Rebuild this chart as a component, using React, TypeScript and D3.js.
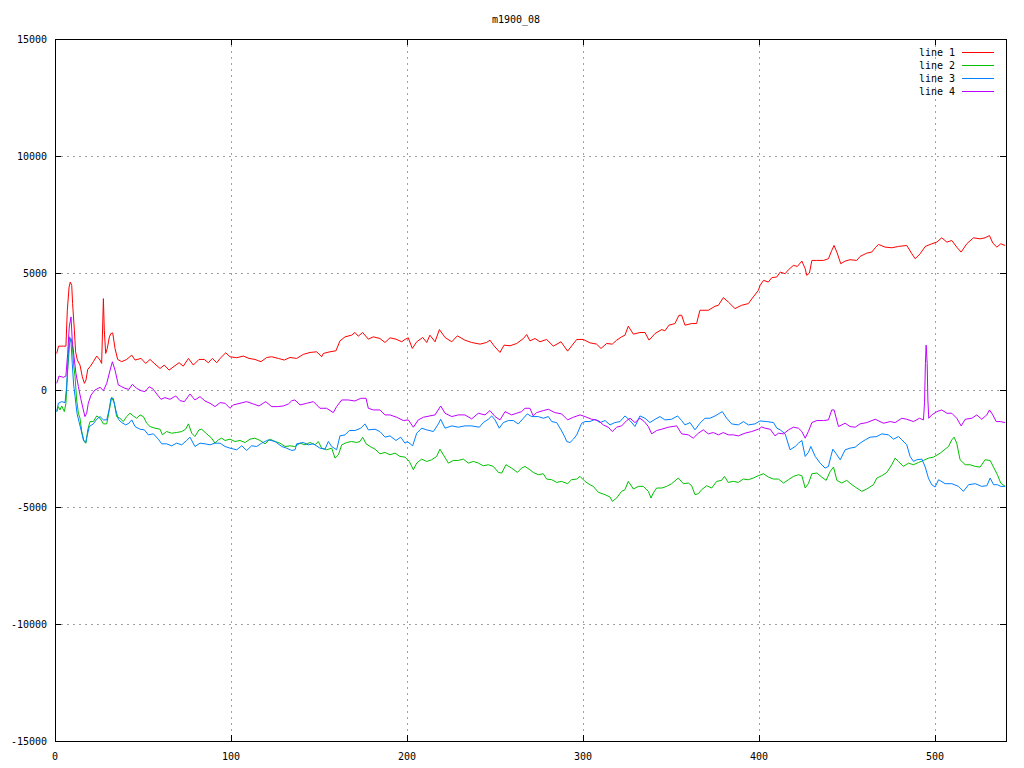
import React from "react";
import * as d3 from "d3";

const title = "m1900_08";
const seriesNames = ["line 1", "line 2", "line 3", "line 4"];
const seriesColors = ["#ff0000", "#00c000", "#0080ff", "#c000ff"];
const xTicks = [0, 100, 200, 300, 400, 500];
const yTicks = [-15000, -10000, -5000, 0, 5000, 10000, 15000];

// line 1 (red)
const line1: [number, number][] = [
  [1, 1560], [2, 1875], [4.7, 1875], [6.2, 1875], [7, 3410], [8, 4400], [8.7, 4615], [9.5, 4470], [10, 3690], [11, 2556],
  [11.7, 1630], [12.7, 1280], [14.2, 1065], [15.5, 570], [16.7, 284], [17.6, 425], [18.6, 880], [19.9, 994], [21.8, 1210],
  [23.7, 1450], [25.6, 1280], [26.5, 1136], [27.5, 3905], [28, 2556], [28.8, 1560], [29.7, 1775], [30.9, 2270], [31.8, 2414],
  [32.8, 2440], [34.1, 1775], [35.6, 1306], [37.9, 1210], [40.7, 1306], [43.6, 1490], [45.5, 1280], [48.9, 1350], [51.5, 1136],
  [54, 1306], [56.8, 1110], [59.7, 920], [62.1, 1065], [64.8, 850], [67.8, 1020], [70.5, 1165], [72.9, 1020], [75.8, 1350],
  [78.6, 1065], [81.8, 1306], [84.8, 1306], [87.1, 1165], [89.4, 1350], [91.9, 1165], [93.8, 1350], [97, 1590], [99.4, 1420],
  [103.2, 1380], [107, 1450], [110.2, 1350], [113.6, 1306], [117, 1210], [120.3, 1390], [123.1, 1420], [126.9, 1350],
  [130.3, 1280], [133.5, 1390], [137.3, 1350], [141, 1520], [144.9, 1605], [148.7, 1633], [151.5, 1420], [152.4, 1560],
  [156.2, 1633], [159.6, 1675], [161.9, 2100], [164.8, 2272], [168.5, 2343], [170.4, 2457], [172.3, 2300], [174.8, 2457],
  [178, 2173], [180.9, 2272], [184.6, 2200], [187.5, 2030], [190.3, 2230], [193.7, 2173], [197, 2060], [198.8, 2160],
  [200.7, 2230], [203, 1775], [205.5, 2060], [208.9, 2244], [211.2, 2030], [213, 2343], [215.9, 2060], [218.4, 2584],
  [221.6, 2244], [225.4, 2060], [228.6, 2315], [232.9, 2130], [236.7, 2030], [241.5, 1960], [245.2, 2030], [247.1, 2130],
  [249.4, 1890], [252.8, 1605], [255.1, 1917], [258.5, 1890], [262.3, 1988], [266.1, 2200], [268, 2370], [269.8, 2100],
  [272.7, 2200], [275.5, 2060], [279.3, 2160], [283.1, 1875], [287.5, 2060], [291.2, 1660], [296.4, 2160], [300.1, 2160],
  [303.9, 2016], [307.7, 1960], [310.2, 1775], [313.4, 1988], [316.6, 1960], [319.1, 2130], [321.9, 2272], [323.8, 2343],
  [325.7, 2726], [328.6, 2386], [332.3, 2457], [335.2, 2457], [337.5, 2130], [340.9, 2414], [344.7, 2584], [346.5, 2528],
  [348.8, 2770], [352.2, 2840], [354.5, 3195], [356, 3195], [357.9, 2770], [361.7, 2840], [364.5, 2840], [366.4, 3408],
  [371.2, 3408], [375, 3578], [376.9, 3620], [379.7, 3948], [382.5, 3763], [386.3, 3480], [390.1, 3620], [393.9, 3692],
  [396.7, 3976], [399.6, 4260], [400.6, 4473], [402.5, 4686], [405.3, 4615], [407.2, 4800], [410.1, 4830], [412, 5041],
  [414.8, 4970], [416.7, 5140], [419.5, 5325], [421.8, 5282], [424.3, 5510], [426.2, 5183], [427.1, 4900], [428.6, 5000],
  [430, 5538], [432.8, 5538], [436.6, 5538], [439.4, 5610], [441.3, 5964], [442.6, 6177], [444.2, 5893], [446.4, 5396],
  [448.9, 5510], [451.7, 5567], [455.5, 5538], [457.4, 5709], [461.2, 5850], [464, 5893], [466, 6078], [467.8, 6220],
  [471.6, 6106], [475.4, 6078], [479.2, 6135], [483.9, 6177], [486.8, 5822], [488.7, 5610], [491.5, 5822], [494.4, 6135],
  [498.1, 6248], [501, 6320], [503.8, 6504], [506.7, 6320], [509.5, 6390], [512.3, 6106], [514.8, 5893], [518, 6248],
  [521.8, 6504], [525.6, 6460], [528.4, 6504], [530.9, 6600], [532.8, 6276], [535.1, 6106], [537.3, 6248], [539.8, 6177],
];

// line 2 (green)
const line2: [number, number][] = [
  [1, -923], [1.9, -710], [2.8, -852], [3.8, -682], [5.3, -923], [6.2, -568], [7.2, 852], [8.3, 1988], [9.1, 2201], [9.8, 1988],
  [10.6, 1065], [11.4, 568], [12.3, -426], [13.3, -994], [14.2, -1207], [15.2, -1775], [16.5, -2201], [17.6, -2272],
  [18.6, -1704], [19.9, -1349], [21.8, -1349], [23.7, -1108], [25.6, -1207], [27.5, -1448], [29.4, -1448], [30.7, -923],
  [32.2, -312], [33.7, -568], [35, -1136], [36.9, -1207], [38.8, -1349], [40.7, -1136], [42.6, -994], [44.5, -1108],
  [46.4, -1207], [48.3, -1065], [50.2, -1136], [52.1, -1420], [54, -1562], [56.8, -1633], [59.7, -1676], [61, -1917],
  [63.4, -1775], [66.3, -1846], [69.1, -1818], [72, -1775], [74.2, -1676], [75.8, -1448], [77.7, -1846], [79.5, -1988],
  [81.8, -1704], [83.3, -1676], [86.2, -1874], [89, -2059], [90.9, -2272], [92.8, -2130], [94.7, -2059], [96.6, -2158],
  [99.4, -2102], [102.3, -2201], [105.1, -2158], [108, -2244], [110.8, -2102], [113.6, -2059], [116.5, -2158],
  [119.3, -2300], [122.2, -2102], [125, -2201], [127.8, -2272], [130.7, -2414], [133.5, -2386], [136.3, -2414],
  [139.2, -2272], [142, -2343], [144.9, -2244], [147.7, -2343], [149.6, -2201], [151.5, -2485], [154.3, -2556],
  [157.2, -2485], [159.1, -2911], [161, -2769], [162.9, -2343], [165.7, -2244], [168.5, -2201], [171.4, -2244],
  [173.3, -2201], [174.8, -2016], [176.7, -2300], [179, -2414], [181.8, -2528], [184.6, -2727], [187.5, -2670],
  [190.3, -2769], [193.2, -2698], [196, -2840], [198.8, -2868], [201.3, -3053], [203.6, -3408], [205.5, -3124],
  [208.3, -2954], [211.2, -3053], [214, -2982], [216.8, -2840], [218.7, -2528], [220.6, -2769], [223.5, -3124],
  [226.3, -3011], [229.1, -3011], [232, -2954], [234.8, -3124], [237.7, -3053], [240.5, -3124], [243.3, -3238],
  [246.2, -3195], [249, -3266], [251.9, -3522], [253.8, -3550], [256.2, -3195], [259.4, -3337], [262.7, -3522],
  [265.1, -3337], [267, -3266], [269.8, -3408], [271.7, -3522], [274.6, -3621], [277.4, -3578], [279.3, -3806],
  [282.2, -3834], [285, -3948], [287.8, -3905], [291.2, -4004], [293.5, -3834], [296.4, -3806], [298.3, -3692],
  [301.1, -3905], [303.9, -4047], [305.8, -4118], [308.7, -4373], [312.5, -4473], [315.3, -4572], [316.6, -4757],
  [319.1, -4615], [321.9, -4331], [323.8, -4260], [325.7, -3905], [328.6, -4232], [331.4, -4118], [334.2, -4118],
  [337.1, -4331], [338.6, -4615], [339.9, -4402], [341.8, -4189], [344.7, -4189], [347.5, -4118], [350.3, -4004],
  [354.1, -3763], [357, -4004], [359.8, -3976], [361.7, -4090], [363.6, -4473], [365.5, -4430], [367.4, -4260],
  [370.2, -4090], [373.1, -4189], [375.9, -3905], [378.7, -3862], [380.3, -3692], [382.5, -3948], [385.4, -3905],
  [388.2, -3948], [391.1, -3806], [393.9, -3834], [396.7, -3763], [399.6, -3660], [402.5, -3578], [405.3, -3720],
  [408.2, -3806], [411, -3806], [413.9, -3976], [416.7, -3834], [419.5, -3692], [422.4, -3621], [424.3, -3664],
  [426.2, -4189], [428, -4004], [430, -3578], [432.8, -3550], [435.6, -3720], [438.1, -3862], [440.4, -3479],
  [442.3, -3294], [444.2, -3862], [447, -3976], [449.8, -3862], [452.7, -4047], [455.5, -4189], [458.4, -4331],
  [461.2, -4232], [465, -4047], [466.9, -3763], [469.7, -3664], [472.6, -3522], [475.4, -3195], [477.3, -2911],
  [479.2, -3053], [482, -3266], [484.9, -3124], [487.7, -3195], [490.6, -3096], [493.4, -3011], [496.2, -2911],
  [499.1, -2869], [502.9, -2698], [505.7, -2528], [507.6, -2414], [509.5, -2130], [510.8, -2016], [512.3, -2272],
  [514.2, -2982], [517.1, -3195], [519.9, -3195], [522.8, -3266], [525.6, -3294], [528.4, -2982], [531.3, -3011],
  [533.2, -3294], [535.4, -3621], [537.3, -3976], [539.8, -4118],
];

// line 3 (blue)
const line3: [number, number][] = [
  [1, -923], [1.9, -568], [3.8, -497], [5.7, -540], [6.6, 142], [7.6, 1562], [8.3, 2272], [9.1, 2059], [9.8, 1136],
  [10.6, 213], [11.4, -284], [12.5, -994], [13.6, -1349], [14.8, -1704], [16.1, -2130], [17.4, -2244], [18.4, -1917],
  [19.5, -1562], [21.8, -1448], [23.7, -1250], [25.6, -1136], [27.5, -1278], [29.4, -1278], [30.7, -852], [31.8, -355],
  [33.1, -355], [34.5, -852], [36, -1250], [37.9, -1392], [40.2, -1491], [42, -1420], [43.6, -1278], [45.5, -1562],
  [48.3, -1676], [50.8, -1704], [53, -1917], [55.9, -1874], [58.7, -2102], [60.6, -2300], [63.4, -2300], [66.3, -2386],
  [69.1, -2272], [72, -2343], [74.8, -2158], [76.7, -2016], [79.5, -2414], [82.4, -2272], [85.2, -2300], [88.1, -2343],
  [90.9, -2272], [93.8, -2272], [96.6, -2414], [99.4, -2485], [103.2, -2556], [106.1, -2386], [108.9, -2584],
  [111.7, -2386], [114.6, -2414], [117.4, -2272], [121.2, -2130], [125, -2201], [128.8, -2414], [131.6, -2485],
  [134.5, -2584], [136.4, -2556], [137.3, -2300], [141, -2244], [143.9, -2343], [146.8, -2300], [150.5, -2485],
  [153.4, -2528], [155.3, -2201], [157.2, -2414], [160, -2556], [161.9, -1960], [164.8, -1917], [167.2, -1732],
  [170.4, -1732], [173.7, -1633], [176.1, -1449], [178, -1704], [181.8, -1676], [184.6, -1775], [187.5, -2016],
  [190.3, -1960], [193.7, -2158], [196.4, -2016], [198.8, -2272], [200.2, -2201], [203.2, -2386], [205.5, -1846],
  [208.3, -1633], [211.2, -1704], [215, -1775], [217.8, -1449], [219.1, -1250], [221.6, -1633], [225.4, -1534],
  [229.1, -1590], [232.9, -1534], [236.7, -1534], [241.1, -1590], [243.3, -1392], [246.2, -1250], [248.1, -1108],
  [250, -1278], [252.4, -1633], [254.7, -1392], [257.6, -1306], [260.4, -1306], [263.2, -1449], [266.1, -1207],
  [268.3, -1022], [270.8, -1136], [274.6, -1136], [277.4, -1207], [280.3, -1136], [282.2, -1349], [285, -1392],
  [287.5, -1704], [289.7, -2016], [290.7, -2201], [292.6, -2244], [294.5, -2102], [296.4, -1917], [299.2, -1420],
  [301.1, -1349], [303.9, -1349], [306.8, -1250], [309.6, -1392], [312.5, -1306], [315.3, -1491], [318.1, -1392],
  [321, -1349], [323.8, -1108], [326.7, -1306], [329.5, -1562], [332.3, -1108], [335.2, -1207], [338, -1392],
  [340.9, -1250], [343.7, -1136], [346.5, -1278], [350.3, -1250], [353.7, -1108], [356, -1306], [357.9, -1491],
  [360.8, -1392], [363.6, -1704], [366.4, -1420], [369.3, -1207], [372.1, -1207], [375, -1108], [379.1, -923],
  [381.6, -1207], [384.4, -1449], [388.2, -1491], [391.1, -1349], [393.9, -1491], [397.7, -1449], [400.5, -1321],
  [404.4, -1349], [408.2, -1392], [410.1, -1633], [412, -1704], [414.8, -1874], [417.6, -2556], [420.5, -2414],
  [422.4, -2272], [424.3, -2158], [426.2, -2840], [428, -2670], [429.4, -2414], [431.9, -2840], [434.7, -3124],
  [437.5, -3337], [439.4, -3266], [440.8, -2840], [441.9, -2528], [443.8, -2727], [446.1, -2982], [448.9, -2556],
  [451.7, -2485], [454.6, -2443], [457.4, -2272], [460.3, -2130], [463.1, -2016], [466.9, -1988], [469.7, -1874],
  [473.5, -1917], [476.4, -2102], [479.2, -1988], [481.1, -2130], [483.9, -2343], [485.8, -2840], [487.7, -3053],
  [489.6, -2982], [492.5, -2954], [494.4, -3294], [496.2, -3763], [498.1, -4047], [500, -4146], [502, -3834],
  [505.7, -4004], [509.5, -4004], [513.3, -4118], [516.1, -4331], [519, -4047], [522.8, -4004], [526.5, -4118],
  [529.4, -4090], [531.3, -3763], [533.2, -4047], [535.4, -4047], [537.3, -4118], [539.8, -4118],
];

// line 4 (magenta)
const line4: [number, number][] = [
  [1, 284], [2.3, 596], [4.7, 540], [6.2, 596], [7.2, 1562], [8.1, 2698], [9.1, 3124], [9.8, 2130], [10.8, 1420],
  [11.9, 710], [13.3, 142], [14.6, -355], [16.1, -852], [17, -1136], [18, -994], [18.9, -568], [20.5, -213], [22.7, 0],
  [25.6, 114], [27.5, -28], [29.4, 284], [31.3, 852], [32.6, 1207], [34.1, 852], [36, 213], [37.9, 142], [39.8, 71],
  [42, 28], [43.9, 241], [46.4, 71], [48.9, -28], [51.1, -71], [53.6, 142], [55.9, 28], [57.8, -170], [60.2, -397],
  [62.5, -327], [65.3, -397], [68.6, -255], [71, -454], [73.5, -497], [76.7, -170], [79.5, -426], [82.4, -284],
  [85.2, -469], [88.1, -568], [90.9, -710], [93.8, -540], [96.6, -568], [99.4, -781], [101.3, -639], [105.1, -568],
  [108.9, -497], [112.7, -597], [115.9, -682], [119.7, -497], [123.1, -710], [126.5, -710], [129.7, -682],
  [132.6, -597], [134.5, -460], [136.3, -426], [139.2, -639], [143, -568], [146.8, -497], [150.5, -781], [154.3, -781],
  [158.1, -966], [160, -710], [162.9, -426], [166.6, -426], [170.4, -469], [173.7, -355], [176.7, -355], [178, -781],
  [180.9, -852], [184.6, -852], [187.5, -1065], [190.3, -1065], [194.1, -1164], [197.9, -1306], [200.7, -1278],
  [203.6, -1590], [206.4, -1278], [209.3, -1164], [213, -1107], [215.9, -1065], [219.1, -682], [221.6, -994],
  [225.4, -1136], [229.1, -1065], [232.9, -1065], [236.7, -1235], [240.5, -994], [244.3, -1065], [247.1, -880],
  [250, -1136], [252.8, -1278], [255.7, -923], [259.4, -1065], [262.3, -994], [265.1, -923], [267, -781],
  [269.8, -781], [271.7, -1108], [273.6, -966], [277.4, -880], [280.3, -824], [284, -966], [287.8, -1022],
  [291.2, -1278], [294.5, -1164], [298.3, -1065], [301.1, -1136], [304.9, -1250], [308.7, -1306], [311.5, -1491],
  [314.3, -1590], [316.6, -1775], [319.1, -1590], [321.9, -1534], [324.8, -1306], [326.7, -1207], [329.5, -1392],
  [332.3, -1207], [334.8, -1349], [337.1, -1562], [339, -1874], [341.8, -1732], [344.7, -1676], [348.4, -1590],
  [353.2, -1534], [356, -1874], [359.8, -1917], [362.6, -2059], [365.5, -1846], [368.3, -1704], [371.2, -1874],
  [374, -1818], [376.9, -1917], [379.7, -1818], [382.5, -1917], [385.4, -1917], [388.2, -1960], [392, -1846],
  [395.8, -1775], [399.6, -1676], [401.5, -1580], [403.4, -1633], [406.3, -1676], [409.1, -1960], [411, -1846],
  [413.9, -1874], [416.7, -1704], [419.5, -1590], [422.4, -1633], [424.3, -1775], [426.2, -2059], [428, -1775],
  [430, -1392], [432.8, -1306], [436.6, -1306], [439.4, -1278], [441.3, -852], [442.6, -852], [445.1, -1562],
  [448.9, -1420], [451.7, -1562], [454.6, -1590], [457.4, -1448], [461.2, -1392], [466, -1250], [470.7, -1420],
  [474.5, -1349], [477.3, -1392], [481.1, -1207], [483.9, -1250], [487.7, -1349], [491.1, -1207], [493.4, -1278],
  [494, -540], [494.5, 1136], [494.9, 1917], [495.5, 1136], [495.9, -426], [496.4, -1207], [498.1, -1065],
  [501, -923], [503.8, -852], [506.7, -994], [509.5, -994], [512.3, -1207], [514.8, -1534], [517.1, -1250],
  [520.9, -1207], [523.7, -1065], [526.5, -1250], [529.4, -1065], [530.9, -852], [532.8, -1065], [534.7, -1349],
  [537, -1349], [539.8, -1392],
];

const allSeries = [line1, line2, line3, line4];

const W = 1024;
const H = 768;
const left = 55;
const right = 1005.5;
const top = 39;
const bottom = 741;
const font = "'DejaVu Sans Mono', monospace";

export default function App() {
  const x = d3.scaleLinear().domain([0, 540]).range([left, right]);
  const y = d3.scaleLinear().domain([-15000, 15000]).range([bottom, top]);
  const lineGen = d3
    .line<[number, number]>()
    .x((d) => x(d[0]))
    .y((d) => y(d[1]));
  const tick = 6;
  const gridColor = "#a0a0a0";

  return (
    <svg
      width={W}
      height={H}
      style={{ position: "absolute", left: 0, top: 0, background: "#fff" }}
    >
      <rect x={0} y={0} width={W} height={H} fill="#fff" />
      {/* grid */}
      <g stroke={gridColor} strokeWidth={1} strokeDasharray="2,4" shapeRendering="crispEdges">
        {yTicks
          .filter((t) => t !== -15000 && t !== 15000)
          .map((t) => (
            <line key={"gy" + t} x1={left + tick} x2={right - tick} y1={Math.round(y(t)) + 0.5} y2={Math.round(y(t)) + 0.5} />
          ))}
        {xTicks
          .filter((t) => t !== 0)
          .map((t) => (
            <line key={"gx" + t} x1={Math.round(x(t)) + 0.5} x2={Math.round(x(t)) + 0.5} y1={top + tick} y2={bottom - tick} />
          ))}
      </g>
      {/* ticks */}
      <g stroke="#000" strokeWidth={1} shapeRendering="crispEdges">
        {yTicks.map((t) => (
          <g key={"ty" + t}>
            <line x1={left} x2={left + tick} y1={Math.round(y(t)) + 0.5} y2={Math.round(y(t)) + 0.5} />
            <line x1={right - tick} x2={right} y1={Math.round(y(t)) + 0.5} y2={Math.round(y(t)) + 0.5} />
          </g>
        ))}
        {xTicks.map((t) => (
          <g key={"tx" + t}>
            <line x1={Math.round(x(t)) + 0.5} x2={Math.round(x(t)) + 0.5} y1={bottom} y2={bottom - tick} />
            <line x1={Math.round(x(t)) + 0.5} x2={Math.round(x(t)) + 0.5} y1={top} y2={top + tick} />
          </g>
        ))}
      </g>
      {/* tick labels */}
      <g fontFamily={font} fontSize={10} fill="#000">
        {yTicks.map((t) => (
          <text key={"ly" + t} x={left - 8} y={y(t)} textAnchor="end" dominantBaseline="central">
            {t}
          </text>
        ))}
        {xTicks.map((t) => (
          <text key={"lx" + t} x={x(t)} y={bottom + 15} textAnchor="middle" dominantBaseline="central">
            {t}
          </text>
        ))}
        <text x={516} y={19} textAnchor="middle" dominantBaseline="central">
          {title}
        </text>
      </g>
      {/* series */}
      <g fill="none" strokeWidth={1}>
        {allSeries.map((s, i) => (
          <path key={"s" + i} d={lineGen(s) || ""} stroke={seriesColors[i]} />
        ))}
      </g>
      {/* frame */}
      <rect
        x={left + 0.5}
        y={top + 0.5}
        width={right - left}
        height={bottom - top}
        fill="none"
        stroke="#000"
        strokeWidth={1}
        shapeRendering="crispEdges"
      />
      {/* legend */}
      <g fontFamily={font} fontSize={10}>
        {seriesNames.map((n, i) => (
          <g key={"lg" + i}>
            <text x={955} y={52 + i * 13} textAnchor="end" dominantBaseline="central" fill="#000">
              {n}
            </text>
            <rect x={962} y={52 + i * 13} width={32} height={1} fill={seriesColors[i]} />
          </g>
        ))}
      </g>
    </svg>
  );
}
